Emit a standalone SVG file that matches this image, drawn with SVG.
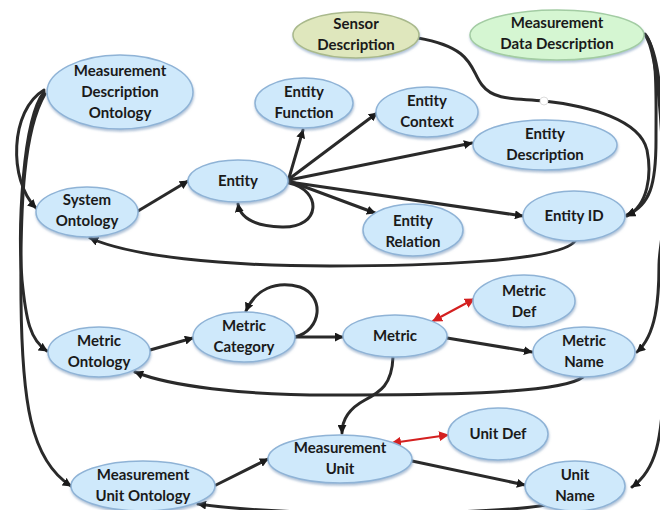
<svg xmlns="http://www.w3.org/2000/svg" width="660" height="510" viewBox="0 0 660 510">
<style>
.n ellipse{fill:#cfe9fb;stroke:#8fb3d6;stroke-width:1.5;filter:url(#sh)}
.n.g1 ellipse{fill:#dfe7bd;stroke:#a9b98c}
.n.g2 ellipse{fill:#d5f6d2;stroke:#a3cca3}
.n text{font-family:Lato,"Open Sans","Liberation Sans",sans-serif;font-weight:bold;font-size:15px;fill:#1a1a1a;text-anchor:middle}
.c path{fill:none;stroke:#2a2a2a;stroke-width:3;stroke-linecap:round}
.c path.a{marker-end:url(#ah)}
.c path.r{stroke:#d42020;stroke-width:2.2;marker-start:url(#rs);marker-end:url(#re)}
</style>
<defs>
<filter id="sh" x="-10%" y="-10%" width="120%" height="130%">
<feDropShadow dx="0.5" dy="2" stdDeviation="1.2" flood-color="#6f92b8" flood-opacity="0.55"/>
</filter>
<marker id="ah" viewBox="0 0 10 10" refX="9" refY="5" markerWidth="9" markerHeight="9" markerUnits="userSpaceOnUse" orient="auto">
<path d="M0,0 L10,5 L0,10 z" fill="#1a1a1a"/>
</marker>
<marker id="re" viewBox="0 0 10 10" refX="9" refY="5" markerWidth="10" markerHeight="10" markerUnits="userSpaceOnUse" orient="auto">
<path d="M0,0 L10,5 L0,10 z" fill="#d42020"/>
</marker>
<marker id="rs" viewBox="0 0 10 10" refX="1" refY="5" markerWidth="10" markerHeight="10" markerUnits="userSpaceOnUse" orient="auto">
<path d="M10,0 L0,5 L10,10 z" fill="#d42020"/>
</marker>
</defs>
<rect width="660" height="510" fill="#ffffff"/>

<g id="connectors" class="c">
<path class="a" d="M44,90 C 10,110 8,180 36,208"/>
<path class="a" d="M44,92 C 22,120 18,230 22,280 C 26,320 30,340 47,351"/>
<path class="a" d="M45,94 C 24,130 20,200 21,300 C 22,400 30,460 71,486"/>
<path class="a" d="M138,211 L188,181"/>
<path class="a" d="M289,178 L303,130"/>
<path class="a" d="M289,179 L377,113"/>
<path class="a" d="M289,180 L472,143"/>
<path class="a" d="M289,181 L375,213"/>
<path class="a" d="M289,182 L523,216"/>
<path class="a" d="M289,183 C 322,190 322,228 282,227 C 252,226 240,216 238,204"/>
<path class="a" d="M418,38 C 475,48 470,70 482,85 C 495,102 520,98 544,101 C 590,106 640,120 647,150 C 652,175 648,205 627,216"/>
<circle cx="544" cy="101" r="4" fill="#ffffff" stroke="#dddddd" stroke-width="1"/>
<path class="a" d="M645,34 C 658,50 656,90 656,140 C 656,185 650,205 627,215"/>
<path class="a" d="M646,36 C 664,60 664,150 664,200 C 664,235 659,250 659,265 C 659,300 656,335 637,352"/>
<path class="a" d="M647,38 C 668,80 666,300 664,380 C 662,440 656,470 632,487"/>
<path class="a" d="M575,241 C 560,262 420,266 330,266 C 220,266 130,256 90,238"/>
<path class="a" d="M150,350 L193,338"/>
<path class="a" d="M295,337 C 322,330 325,296 300,287 C 275,280 255,290 246,311"/>
<path class="a" d="M295,337 L343,337"/>
<path class="a" d="M447,338 L532,352"/>
<path class="a" d="M583,377 C 560,395 420,395 330,395 C 240,395 170,386 135,372"/>
<path class="a" d="M393,357 C 392,385 380,392 365,400 C 350,408 342,418 342,433"/>
<path class="a" d="M412,461 L525,485"/>
<path class="a" d="M216,485 L268,459"/>
<path class="a" d="M545,505 C 500,514 300,518 198,504"/>
<path class="r" d="M433,321 L474,299"/>
<path class="r" d="M392,443 L448,435"/>
</g>

<g id="n-mdo" class="n"><ellipse cx="120" cy="92" rx="73" ry="37"/><text x="120" y="76">Measurement</text><text x="120" y="97">Description</text><text x="120" y="118">Ontology</text></g>
<g id="n-sensor" class="n g1"><ellipse cx="356" cy="35" rx="63" ry="23"/><text x="356" y="29">Sensor</text><text x="356" y="50">Description</text></g>
<g id="n-mdd" class="n g2"><ellipse cx="557" cy="35" rx="87" ry="25"/><text x="557" y="28">Measurement</text><text x="557" y="49">Data Description</text></g>
<g id="n-sysont" class="n"><ellipse cx="87" cy="212" rx="51" ry="25"/><text x="87" y="205">System</text><text x="87" y="226">Ontology</text></g>
<g id="n-entity" class="n"><ellipse cx="238" cy="181" rx="50" ry="21"/><text x="238" y="186">Entity</text></g>
<g id="n-efunc" class="n"><ellipse cx="304" cy="103" rx="49" ry="25"/><text x="304" y="97">Entity</text><text x="304" y="118">Function</text></g>
<g id="n-ectx" class="n"><ellipse cx="427" cy="112" rx="51" ry="25"/><text x="427" y="106">Entity</text><text x="427" y="127">Context</text></g>
<g id="n-edesc" class="n"><ellipse cx="545" cy="145" rx="72" ry="25"/><text x="545" y="139">Entity</text><text x="545" y="160">Description</text></g>
<g id="n-erel" class="n"><ellipse cx="413" cy="230" rx="50" ry="26"/><text x="413" y="226">Entity</text><text x="413" y="247">Relation</text></g>
<g id="n-eid" class="n"><ellipse cx="574" cy="216" rx="51" ry="25"/><text x="574" y="221">Entity ID</text></g>
<g id="n-metont" class="n"><ellipse cx="99" cy="352" rx="51" ry="25"/><text x="99" y="346">Metric</text><text x="99" y="367">Ontology</text></g>
<g id="n-metcat" class="n"><ellipse cx="244" cy="337" rx="51" ry="25"/><text x="244" y="331">Metric</text><text x="244" y="352">Category</text></g>
<g id="n-metric" class="n"><ellipse cx="395" cy="336" rx="52" ry="21"/><text x="395" y="341">Metric</text></g>
<g id="n-metdef" class="n"><ellipse cx="524" cy="301" rx="51" ry="26"/><text x="524" y="296">Metric</text><text x="524" y="317">Def</text></g>
<g id="n-metname" class="n"><ellipse cx="584" cy="352" rx="51" ry="25"/><text x="584" y="346">Metric</text><text x="584" y="367">Name</text></g>
<g id="n-muo" class="n"><ellipse cx="143" cy="486" rx="72" ry="25"/><text x="143" y="480">Measurement</text><text x="143" y="501">Unit Ontology</text></g>
<g id="n-mu" class="n"><ellipse cx="340" cy="459" rx="72" ry="24"/><text x="340" y="453">Measurement</text><text x="340" y="474">Unit</text></g>
<g id="n-unitdef" class="n"><ellipse cx="498" cy="434" rx="50" ry="26"/><text x="498" y="439">Unit Def</text></g>
<g id="n-unitname" class="n"><ellipse cx="575" cy="486" rx="50" ry="25"/><text x="575" y="480">Unit</text><text x="575" y="501">Name</text></g>
</svg>
